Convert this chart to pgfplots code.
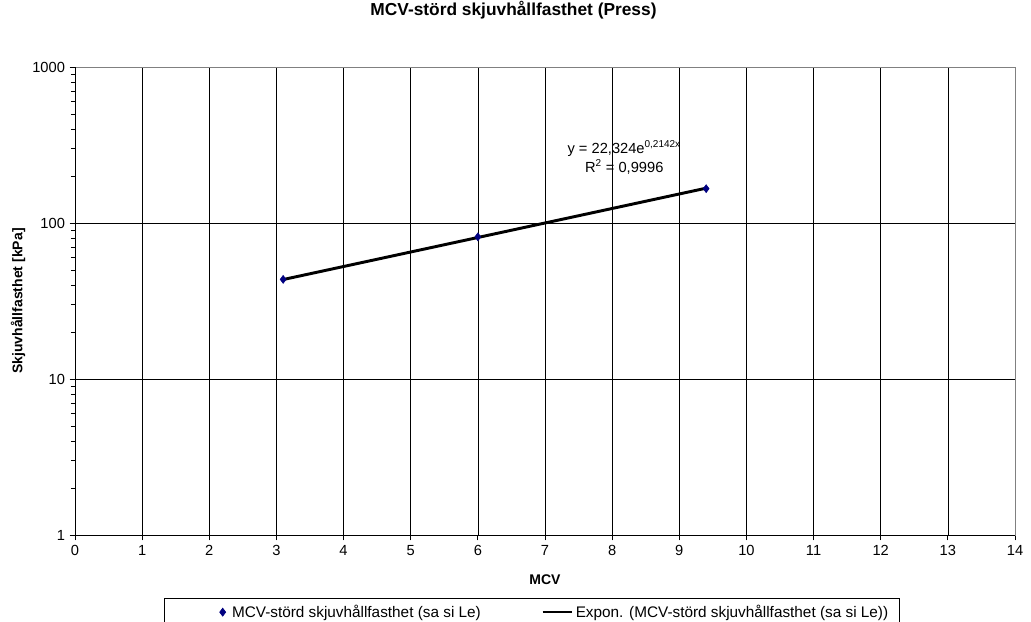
\documentclass[border=0pt]{standalone}
\usepackage{fontspec}
\setmainfont{Liberation Sans}
\usepackage{pgfplots}
\pgfplotsset{compat=1.18}
\definecolor{navy}{RGB}{0,0,128}
\begin{document}
\begin{tikzpicture}
\begin{axis}[
  scale only axis, width=705pt, height=351pt,
  ymode=log, xmin=0, xmax=14, ymin=1, ymax=1000,
  xtick={0,1,...,14},
  ytick={1,10,100,1000}, yticklabels={1,10,100,1000},
  minor ytick={2,3,4,5,6,7,8,9,20,30,40,50,60,70,80,90,200,300,400,500,600,700,800,900},
  tick align=outside, xtick pos=bottom, ytick pos=left,
  major tick length=4pt, minor tick length=3pt,
  tick style={black, line width=0.6pt},
  minor tick style={black, line width=0.6pt},
  grid=major, major grid style={black, line width=0.5pt},
  axis line style={gray, line width=0.6pt},
  /pgf/number format/assume math mode=true,
  every tick label/.append style={font=\fontsize{11}{13}\selectfont},
  title={MCV-störd skjuvhållfasthet (Press)},
  title style={font=\bfseries\fontsize{13}{15}\selectfont, at={(axis description cs:0.4665,1.1047)}, anchor=center},
  xlabel={MCV},
  xlabel style={font=\bfseries\fontsize{10.5}{12}\selectfont, at={(axis description cs:0.5,-0.0962)}, anchor=center},
  ylabel={Skjuvhållfasthet [kPa]},
  ylabel style={font=\bfseries\fontsize{10.5}{12}\selectfont, at={(axis description cs:-0.0606,0.5)}, anchor=center, rotate=0},
  legend columns=2,
  legend style={at={(axis description cs:0.4856,-0.1346)}, anchor=north, draw=black, line width=0.5pt,
    font=\fontsize{11.5}{13}\selectfont, inner xsep=6pt, inner ysep=3pt,
    /tikz/every even column/.append style={column sep=0pt}},
  legend cell align=left,
]
\addplot[only marks, mark=diamond*, mark size=3pt, color=navy,
  legend image code/.code={\path[draw=none] (0pt,0pt) -- (43pt,0pt); \path[draw=none, fill=navy] plot[only marks, mark=diamond*, mark size=3pt] coordinates {(38pt,0pt)};}] coordinates {(3.1,43.5) (6,81.5) (9.4,166)};
\addlegendentry{\makebox[230pt][l]{MCV-störd skjuvhållfasthet (sa si Le)}}
\addplot[black, line width=2.2pt, no marks, legend image code/.code={\draw[black, line width=1.8pt] (0pt,0pt) -- (22pt,0pt);}] coordinates {(3.1,43.4) (9.4,167.2)};
\addlegendentry{Expon. (MCV-störd skjuvhållfasthet (sa si Le))\hspace{10pt}}
\node[align=center, font=\fontsize{11}{14.25}\selectfont, inner sep=1pt] at (axis cs:8.18,263) {y = 22,324e\textsuperscript{\fontsize{7.5}{8}\selectfont 0,2142x}\\R\textsuperscript{\fontsize{7.5}{8}\selectfont 2} = 0,9996};
\draw[black, line width=0.6pt] (rel axis cs:0,1) -- (rel axis cs:0,0) -- (rel axis cs:1,0);
\coordinate (sw) at (rel axis cs:0,0);
\coordinate (ne) at (rel axis cs:1,1);
\end{axis}
\pgfresetboundingbox
\path[use as bounding box] ([xshift=-56.25pt,yshift=-64.5pt]sw) rectangle ([xshift=12pt,yshift=50.25pt]ne);
\end{tikzpicture}
\end{document}
